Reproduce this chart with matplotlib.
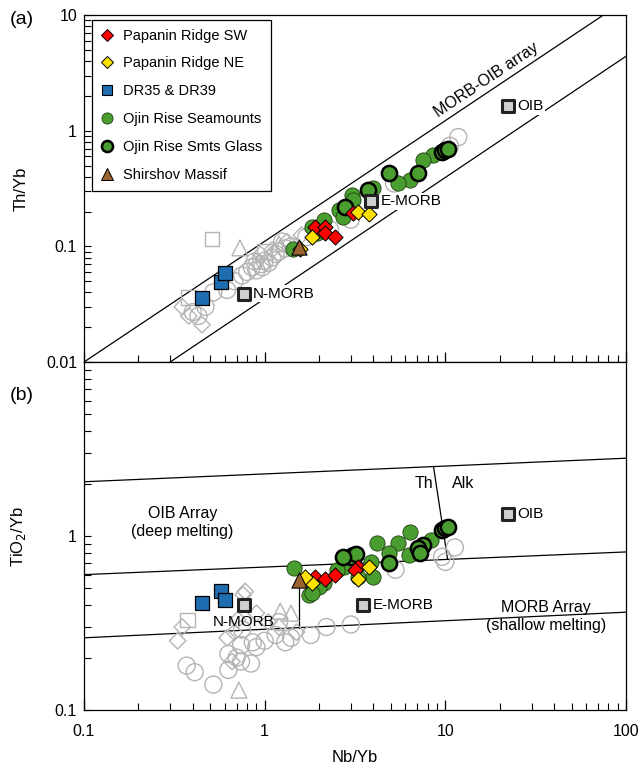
import numpy as np
import matplotlib
matplotlib.use("Agg")
import matplotlib.pyplot as plt
from matplotlib.lines import Line2D

plt.rcParams['font.family'] = ['Liberation Sans', 'DejaVu Sans']
plt.rcParams['font.size'] = 11

# ---------------- data (Nb/Yb, Th/Yb, TiO2/Yb) ----------------
# Papanin Ridge SW
sw_nb_th = [1.9, 2.15, 2.15, 2.44, 3.1]
sw_th = [0.147, 0.147, 0.13, 0.12, 0.195]
sw_nb_ti = [1.9, 2.15, 2.44, 3.3, 3.15]
sw_ti = [0.58, 0.565, 0.60, 0.66, 0.64]

# Papanin Ridge NE
ne_nb_th = [1.83, 1.57, 3.3, 3.8]
ne_th = [0.12, 0.094, 0.20, 0.19]
ne_nb_ti = [1.83, 3.3, 3.8, 1.67]
ne_ti = [0.54, 0.565, 0.66, 0.58]

# DR35 & DR39
dr_nb = [0.45, 0.57, 0.60]
dr_th = [0.036, 0.049, 0.059]
dr_ti = [0.41, 0.48, 0.43]

# Ojin Rise Seamounts (whole rock)
oj_nb_th = [8.5, 7.5, 6.4, 5.5, 4.0, 3.03, 3.1, 2.57, 2.7, 2.13, 1.83, 1.95, 1.44]
oj_th = [0.62, 0.56, 0.375, 0.35, 0.32, 0.28, 0.25, 0.205, 0.18, 0.17, 0.147, 0.13, 0.094]
oj_nb_ti = [8.3, 6.3, 6.4, 5.5, 4.9, 4.2, 3.9, 4.0, 2.75, 2.5, 3.3, 2.13, 2.0, 1.76, 1.83, 1.46]
oj_ti = [0.95, 0.78, 1.05, 0.91, 0.80, 0.91, 0.71, 0.58, 0.66, 0.64, 0.58, 0.54, 0.51, 0.46, 0.47, 0.655]

# Ojin Rise Seamounts glass
gl_nb_th = [9.6, 10.0, 10.4, 7.1, 4.9, 3.75, 2.77]
gl_th = [0.66, 0.68, 0.69, 0.43, 0.43, 0.31, 0.22]
gl_nb_ti = [9.6, 10.0, 10.4, 7.5, 7.1, 7.2, 4.9, 3.1, 3.0, 3.2, 2.7]
gl_ti = [1.08, 1.11, 1.12, 0.89, 0.85, 0.80, 0.70, 0.78, 0.76, 0.79, 0.76]

# Shirshov Massif
sh_nb = [1.55]
sh_th = [0.099]
sh_ti = [0.56]

# Reference compositions
ref_names = ['N-MORB', 'E-MORB', 'OIB']
ref_nb = [0.764, 3.5, 22.2]
ref_nb_top = [0.764, 3.9, 22.2]
ref_th = [0.039, 0.245, 1.62]
ref_ti = [0.40, 0.40, 1.33]

# literature data (grey open symbols), panel (a)
lit_circ_nb_a = [0.40, 0.43, 0.47, 0.52, 0.62, 0.68, 0.75, 0.80, 0.85, 0.90, 0.95, 1.0,
                 1.05, 1.1, 1.15, 1.2, 1.3, 1.4, 0.88, 0.97, 1.25, 1.7, 2.3, 3.0, 11.8, 10.6, 5.2]
lit_circ_th_a = [0.027, 0.025, 0.03, 0.04, 0.042, 0.05, 0.056, 0.06, 0.066, 0.062, 0.07,
                 0.075, 0.072, 0.08, 0.086, 0.09, 0.096, 0.10, 0.074, 0.066, 0.11, 0.12,
                 0.14, 0.17, 0.88, 0.74, 0.35]
lit_diam_nb_a = [0.35, 0.38, 0.45, 0.9, 1.1, 1.33, 1.6, 0.95]
lit_diam_th_a = [0.03, 0.025, 0.021, 0.074, 0.093, 0.11, 0.125, 0.085]
lit_sq_nb_a = [0.51, 0.38, 1.0]
lit_sq_th_a = [0.116, 0.036, 0.09]
lit_tri_nb_a = [0.73, 1.2]
lit_tri_th_a = [0.097, 0.105]

# literature data, panel (b)
lit_circ_nb_b = [0.37, 0.41, 0.52, 0.63, 0.74, 0.84, 0.74, 0.86, 1.3, 0.63, 0.7, 0.9,
                 1.0, 1.15, 1.4, 1.8, 2.2, 3.0, 5.3, 11.3, 9.6, 10.0, 1.2, 0.75]
lit_circ_ti_b = [0.18, 0.165, 0.14, 0.17, 0.19, 0.185, 0.236, 0.245, 0.245, 0.21, 0.20,
                 0.23, 0.25, 0.27, 0.26, 0.27, 0.30, 0.31, 0.64, 0.86, 0.76, 0.71, 0.32, 0.29]
lit_diam_nb_b = [0.33, 0.35, 0.62, 0.68, 0.71, 0.78, 0.76, 0.9, 1.05, 1.2, 1.5, 0.66]
lit_diam_ti_b = [0.25, 0.30, 0.26, 0.28, 0.33, 0.48, 0.46, 0.36, 0.32, 0.30, 0.28, 0.19]
lit_sq_nb_b = [0.375]
lit_sq_ti_b = [0.33]
lit_tri_nb_b = [0.72, 1.22, 1.4]
lit_tri_ti_b = [0.13, 0.37, 0.36]

# array boundaries
arr_a_upper = ([0.1, 75.0], [0.01, 10.0])
arr_a_lower = ([0.3, 100.0], [0.01, 4.4])
arr_b_top = ([0.1, 100.0], [2.05, 2.8])
arr_b_mid = ([0.1, 100.0], [0.60, 0.81])
arr_b_low = ([0.1, 100.0], [0.26, 0.365])
th_alk = ([8.6, 10.3], [2.51, 0.734])
sh_tie = ([1.55, 1.55], [0.56, 0.297])

# ---------------- figure ----------------
fig = plt.figure(figsize=(6.44, 7.67), dpi=100)
ax1 = fig.add_axes([0.1304, 0.5280, 0.8416, 0.4524])
ax2 = fig.add_axes([0.1304, 0.0743, 0.8416, 0.4537])

grey = '#b4b4b4'
green = '#4a9e2f'
c_red = '#ff0000'
c_yel = '#ffe100'
c_blue = '#1f6db1'
c_brown = '#9c6330'


def grey_points(ax, cn, cy, dn, dy, sn, sy, tn, ty):
    kw = dict(facecolors='none', edgecolors=grey, linewidths=1.0, zorder=2)
    ax.scatter(cn, cy, marker='o', s=150, **kw)
    ax.scatter(dn, dy, marker='D', s=70, **kw)
    ax.scatter(sn, sy, marker='s', s=110, **kw)
    ax.scatter(tn, ty, marker='^', s=130, **kw)


for ax in (ax1, ax2):
    ax.set_xscale('log')
    ax.set_yscale('log')
    ax.set_xlim(0.1, 100)

ax1.set_ylim(0.01, 10)
ax2.set_ylim(0.1, 10)

# panel (a)
ax1.plot(*arr_a_upper, color='k', lw=0.9, zorder=1)
ax1.plot(*arr_a_lower, color='k', lw=0.9, zorder=1)
grey_points(ax1, lit_circ_nb_a, lit_circ_th_a, lit_diam_nb_a, lit_diam_th_a,
            lit_sq_nb_a, lit_sq_th_a, lit_tri_nb_a, lit_tri_th_a)

ax1.scatter(dr_nb, dr_th, marker='s', s=110, c=c_blue, edgecolors='k', linewidths=0.9, zorder=4)
ax1.scatter(oj_nb_th, oj_th, marker='o', s=120, c=green, edgecolors='#1d3d10', linewidths=0.6, zorder=4)
ax1.scatter(gl_nb_th, gl_th, marker='o', s=120, c=green, edgecolors='k', linewidths=1.8, zorder=5)
ax1.scatter(sw_nb_th, sw_th, marker='D', s=60, c=c_red, edgecolors='k', linewidths=0.7, zorder=6)
ax1.scatter(ne_nb_th, ne_th, marker='D', s=60, c=c_yel, edgecolors='k', linewidths=0.7, zorder=6)
ax1.scatter(sh_nb, sh_th, marker='^', s=120, c=c_brown, edgecolors='k', linewidths=0.8, zorder=7)

# panel (b)
for ln in (arr_b_top, arr_b_mid, arr_b_low, th_alk, sh_tie):
    ax2.plot(*ln, color='k', lw=0.9, zorder=1)
grey_points(ax2, lit_circ_nb_b, lit_circ_ti_b, lit_diam_nb_b, lit_diam_ti_b,
            lit_sq_nb_b, lit_sq_ti_b, lit_tri_nb_b, lit_tri_ti_b)

ax2.scatter(dr_nb, dr_ti, marker='s', s=110, c=c_blue, edgecolors='k', linewidths=0.9, zorder=4)
ax2.scatter(oj_nb_ti, oj_ti, marker='o', s=120, c=green, edgecolors='#1d3d10', linewidths=0.6, zorder=4)
ax2.scatter(gl_nb_ti, gl_ti, marker='o', s=120, c=green, edgecolors='k', linewidths=1.8, zorder=5)
ax2.scatter(sw_nb_ti, sw_ti, marker='D', s=60, c=c_red, edgecolors='k', linewidths=0.7, zorder=6)
ax2.scatter(ne_nb_ti, ne_ti, marker='D', s=60, c=c_yel, edgecolors='k', linewidths=0.7, zorder=6)
ax2.scatter(sh_nb, sh_ti, marker='^', s=120, c=c_brown, edgecolors='k', linewidths=0.8, zorder=7)

# reference compositions
ref_kw = dict(marker='s', s=70, c='#d0d0d0', edgecolors='#222222', linewidths=2.2, zorder=8)
ax1.scatter(ref_nb_top, ref_th, **ref_kw)
ax2.scatter(ref_nb, ref_ti, **ref_kw)
bb = dict(facecolor='white', edgecolor='none', pad=1.0)
for name, x, y in zip(ref_names, ref_nb_top, ref_th):
    ax1.annotate(name, (x, y), xytext=(7, 0), textcoords='offset points',
                 va='center', ha='left', fontsize=11, bbox=bb, zorder=9)
ax2.annotate('N-MORB', (ref_nb[0], ref_ti[0]), xytext=(0, -12), textcoords='offset points',
             va='center', ha='center', fontsize=11, zorder=9)
ax2.annotate('E-MORB', (ref_nb[1], ref_ti[1]), xytext=(7, 0), textcoords='offset points',
             va='center', ha='left', fontsize=11, zorder=9)
ax2.annotate('OIB', (ref_nb[2], ref_ti[2]), xytext=(7, 0), textcoords='offset points',
             va='center', ha='left', fontsize=11, zorder=9)

# rotated array label
p0 = ax1.transData.transform((arr_a_upper[0][0], arr_a_upper[1][0]))
p1 = ax1.transData.transform((arr_a_upper[0][1], arr_a_upper[1][1]))
ang = np.degrees(np.arctan2(p1[1] - p0[1], p1[0] - p0[0]))
ax1.text(17.0, 2.75, 'MORB-OIB array', rotation=ang, rotation_mode='anchor',
         ha='center', va='center', fontsize=11.5, bbox=bb, zorder=3)

ax2.text(0.35, 1.2, 'OIB Array\n(deep melting)', ha='center', va='center', fontsize=11.5,
         linespacing=1.25)
ax2.text(36, 0.345, 'MORB Array\n(shallow melting)', ha='center', va='center', fontsize=11.5,
         linespacing=1.25)
ax2.text(7.6, 2.0, 'Th', ha='center', va='center', fontsize=11.5)
ax2.text(12.5, 2.0, 'Alk', ha='center', va='center', fontsize=11.5)

# axes styling
for ax in (ax1, ax2):
    ax.tick_params(axis='both', which='both', direction='in', top=False, right=False)
    ax.tick_params(axis='y', which='both', length=5, width=0.8)
    ax.tick_params(axis='x', which='major', length=7, width=0.9)
    ax.tick_params(axis='x', which='minor', length=5, width=0.8)
    for sp in ax.spines.values():
        sp.set_linewidth(0.9)

ax1.set_yticks([0.01, 0.1, 1, 10])
ax1.set_yticklabels(['0.01', '0.1', '1', '10'])
ax1.set_xticks([0.1, 1, 10, 100])
ax1.set_xticklabels([])
ax2.set_yticks([0.1, 1, 10])
ax2.set_yticklabels(['0.1', '1', ''])
ax2.set_xticks([0.1, 1, 10, 100])
ax2.set_xticklabels(['0.1', '1', '10', '100'])
for ax in (ax1, ax2):
    ax.yaxis.set_minor_formatter(plt.NullFormatter())
    ax.xaxis.set_minor_formatter(plt.NullFormatter())
    ax.tick_params(axis='y', labelsize=11.5, pad=5)
ax2.tick_params(axis='x', labelsize=11.5, pad=10)

ax1.set_ylabel('Th/Yb', fontsize=12)
ax2.set_ylabel('TiO$_2$/Yb', fontsize=12)
ax1.yaxis.set_label_coords(-0.103, 0.5)
ax2.yaxis.set_label_coords(-0.103, 0.5)
ax2.set_xlabel('Nb/Yb', fontsize=12, labelpad=8)

fig.text(0.015, 0.975, '(a)', fontsize=14, va='center')
fig.text(0.015, 0.485, '(b)', fontsize=14, va='center')

# legend
handles = [
    Line2D([], [], ls='none', marker='D', ms=6, mfc=c_red, mec='k', mew=0.7),
    Line2D([], [], ls='none', marker='D', ms=6, mfc=c_yel, mec='k', mew=0.7),
    Line2D([], [], ls='none', marker='s', ms=7, mfc=c_blue, mec='k', mew=0.8),
    Line2D([], [], ls='none', marker='o', ms=8, mfc=green, mec='#1d3d10', mew=0.6),
    Line2D([], [], ls='none', marker='o', ms=8, mfc=green, mec='k', mew=1.8),
    Line2D([], [], ls='none', marker='^', ms=8, mfc=c_brown, mec='k', mew=0.7),
]
labels = ['Papanin Ridge SW', 'Papanin Ridge NE', 'DR35 & DR39', 'Ojin Rise Seamounts',
          'Ojin Rise Smts Glass', 'Shirshov Massif']
leg = ax1.legend(handles, labels, loc='upper left', bbox_to_anchor=(0.0146, 0.986),
                 borderaxespad=0, fontsize=10.5, frameon=True, fancybox=False,
                 edgecolor='k', framealpha=1, labelspacing=0.95, handlelength=0.9,
                 handletextpad=0.6, borderpad=0.6)
leg.get_frame().set_linewidth(0.9)
leg.set_zorder(20)

fig.savefig('out.png', dpi=100)
